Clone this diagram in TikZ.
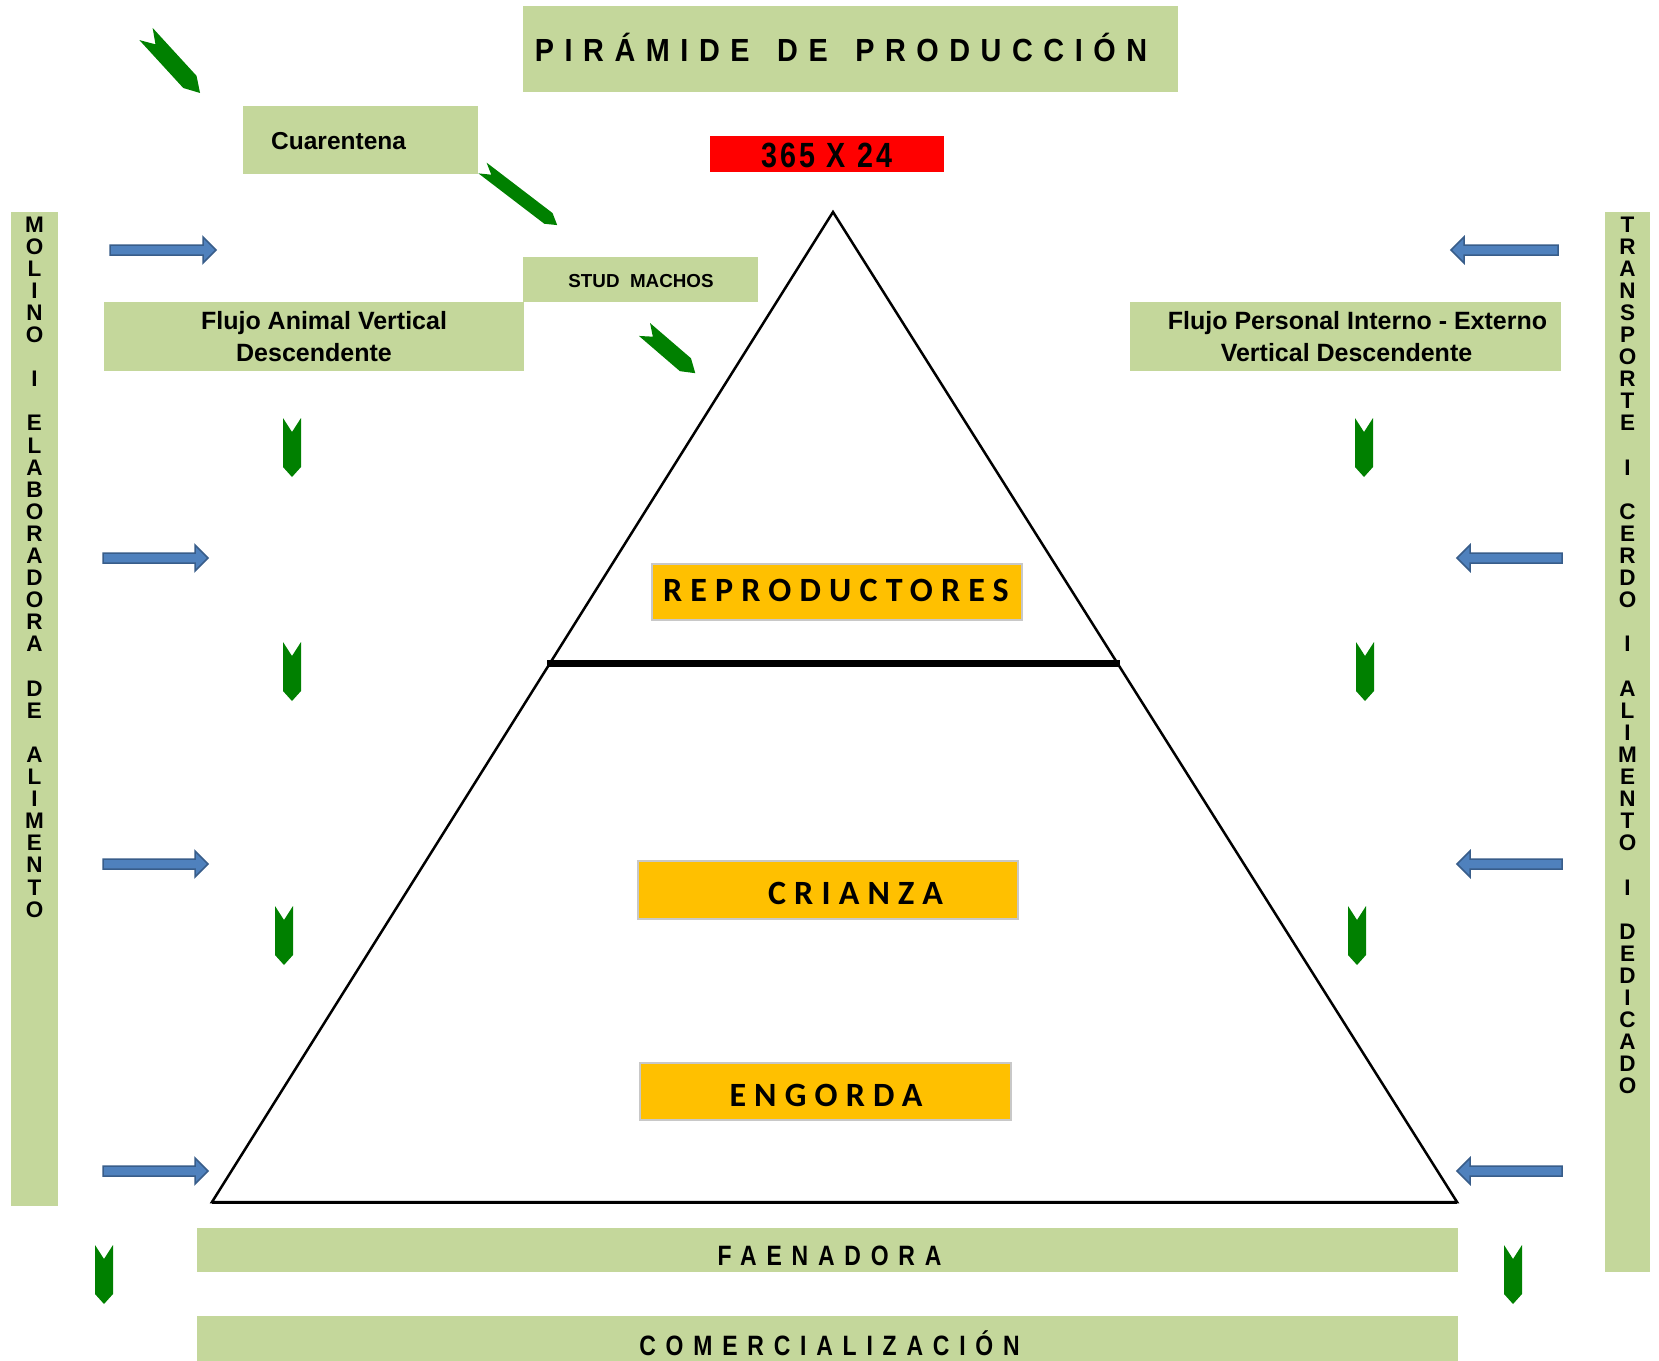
\documentclass[tikz,border=0pt]{standalone}
\usepackage{fontspec}
\setmainfont{Liberation Sans}
\newfontfamily\narrowfont[FakeStretch=0.82]{Liberation Sans}
\newfontfamily\titlefont[FakeStretch=0.9]{Liberation Sans}
\newfontfamily\calfont{Carlito}
\usetikzlibrary{fit,calc}
\definecolor{boxgreen}{RGB}{196,215,155}
\definecolor{orangebox}{RGB}{255,192,0}
\definecolor{redbox}{RGB}{255,0,0}
\definecolor{arrowblue}{RGB}{79,129,189}
\definecolor{arrowedge}{RGB}{56,93,138}
\definecolor{arrowgreen}{RGB}{0,128,0}
\definecolor{boxgray}{RGB}{200,200,200}
\tikzset{
  gbox/.style={fill=boxgreen, draw=none, inner sep=0pt},
  obox/.style={fill=orangebox, draw=boxgray, line width=1.2pt, inner sep=0pt},
  rbox/.style={fill=redbox, draw=none, inner sep=0pt},
  plain/.style={inner sep=0pt, text=black},
  arialb/.style={plain, font=\bfseries\fontsize{#1}{#1}\selectfont},
  vlet/.style={plain, anchor=base, font=\bfseries\fontsize{22.5}{22}\selectfont},
  flujo/.style={plain, align=center, font=\bfseries\fontsize{25}{32}\selectfont},
  spacedcal/.style={plain, anchor=base, font=\calfont\bfseries\fontsize{34}{40}\selectfont\addfontfeatures{LetterSpace=24}},
  spacednarrow/.style={plain, anchor=base, font=\narrowfont\bfseries\fontsize{28}{30}\selectfont\addfontfeatures{LetterSpace=35}},
  pics/chev/.style args={#1/#2/#3/#4}{code={
    \fill[arrowgreen] (0,-#2/2) -- (#1-#4,-#2/2) -- (#1,0) -- (#1-#4,#2/2) -- (0,#2/2) -- (#3,0) -- cycle;
  }},
  pics/barrow/.style={code={
    \filldraw[fill=arrowblue, draw=arrowedge, line width=1.5pt, line join=miter]
      (0,-5) -- (#1-13,-5) -- (#1-13,-13) -- (#1,0) -- (#1-13,13) -- (#1-13,5) -- (0,5) -- cycle;
  }},
}
\begin{document}
\begin{tikzpicture}[x=1pt,y=-1pt]
\useasboundingbox (0,0) rectangle (1659,1360);
\fill[white] (0,0) rectangle (1659,1360);

% ---- boxes ----
\node[gbox, fit={(523,6) (1178,92)}] (titlebox) {};
\node[rbox, fit={(710,136) (944,172)}] (redb) {};
\node[gbox, fit={(243,106) (478,174)}] (cuar) {};
\node[gbox, fit={(104,302) (524,371)}] (flujoA) {};
\node[gbox, fit={(523,257) (758,302)}] (stud) {};
\node[gbox, fit={(1130,302) (1561,371)}] (flujoP) {};
\node[gbox, fit={(11,212) (58,1206)}] (molino) {};
\node[gbox, fit={(1605,212) (1650,1272)}] (transp) {};
\node[gbox, fit={(197,1228) (1458,1272)}] (faen) {};
\node[gbox, fit={(197,1316) (1458,1362)}] (comer) {};

% ---- triangle ----
\coordinate (apex) at (833,212);
\coordinate (bl) at (212,1202);
\coordinate (br) at (1457,1202);
\draw[line width=2.5pt, line join=miter] (apex) -- (bl) -- (br) -- cycle;
\draw[line width=3pt] (bl) -- (br);
\coordinate (divL) at ($(apex)!0.4556!(bl)$);
\coordinate (divR) at ($(apex)!0.4556!(br)$);
\draw[line width=7pt] ([xshift=-3pt]divL) -- ([xshift=3pt]divR);

\node[obox, fit={(652,564) (1022,620)}] (repro) {};
\node[obox, fit={(638,861) (1018,919)}] (crianza) {};
\node[obox, fit={(640,1063) (1011,1120)}] (engorda) {};

% ---- texts ----
\node[plain, anchor=base, font=\titlefont\bfseries\fontsize{32}{36}\selectfont\addfontfeatures{LetterSpace=33}] (titlet) at (841,61) {PIRÁMIDE\hspace{9pt} DE\hspace{9pt} PRODUCCIÓN};
\node[plain, anchor=base, font=\narrowfont\bfseries\fontsize{35}{40}\selectfont\addfontfeatures{LetterSpace=9}] (redt) at (827,167) {365 X 24};
\node[arialb=24.5, anchor=base west] (cuart) at (271,149) {Cuarentena};
\node[arialb=18.8, anchor=base] (studt) at (641,287.5) {STUD\ \ MACHOS};
\node[flujo] (flujoAt) at (319,336.5) {\hspace*{10pt}Flujo Animal Vertical\\Descendente\hspace*{10pt}};
\node[flujo] (flujoPt) at (1352,336.5) {\hspace*{11pt}Flujo Personal Interno - Externo\\Vertical Descendente\hspace*{11pt}};
\node[spacedcal] (reprot) at (836,601) {REPRODUCTORES};
\node[spacedcal] (criant) at (855.5,904) {CRIANZA};
\node[spacedcal] (engort) at (826,1106) {ENGORDA};
\node[spacednarrow] (faent) at (829.5,1265.5) {FAENADORA};
\node[spacednarrow] (comert) at (829.5,1355) {COMERCIALIZACIÓN};

\foreach \ch [count=\i from 0] in {M,O,L,I,N,O,,I,,E,L,A,B,O,R,A,D,O,R,A,,D,E,,A,L,I,M,E,N,T,O}
  \node[vlet] (ml\i) at (34.5,232+22.1*\i) {\ch};
\foreach \ch [count=\i from 0] in {T,R,A,N,S,P,O,R,T,E,,I,,C,E,R,D,O,,I,,A,L,I,M,E,N,T,O,,I,,D,E,D,I,C,A,D,O}
  \node[vlet] (tr\i) at (1627.5,232+22.1*\i) {\ch};

% ---- blue arrows ----
\pic at (110,250) {barrow=106};
\pic at (103,558) {barrow=105};
\pic at (103,864) {barrow=105};
\pic at (103,1171) {barrow=105};
\pic[rotate=180] at (1558,250) {barrow=107};
\pic[rotate=180] at (1562,558) {barrow=105};
\pic[rotate=180] at (1562,864) {barrow=105};
\pic[rotate=180] at (1562,1171) {barrow=105};

% ---- green chevrons ----
\pic[rotate=-47.5] at (146,34) {chev=80/18/14/15};
\pic[rotate=-37.4] at (482.5,168) {chev=94/13.5/11/11};
\pic[rotate=-40.7] at (644.5,329.5) {chev=67/17/11/13};
\pic[rotate=-90] at (292,418) {chev=59/18/14/10};
\pic[rotate=-90] at (292,642) {chev=59/18/14/10};
\pic[rotate=-90] at (284,906) {chev=59/18/14/10};
\pic[rotate=-90] at (104,1245) {chev=59/18/14/10};
\pic[rotate=-90] at (1364,418) {chev=59/18/14/10};
\pic[rotate=-90] at (1365,642) {chev=59/18/14/10};
\pic[rotate=-90] at (1357,906) {chev=59/18/14/10};
\pic[rotate=-90] at (1513,1245) {chev=59/18/14/10};
\end{tikzpicture}
\end{document}
